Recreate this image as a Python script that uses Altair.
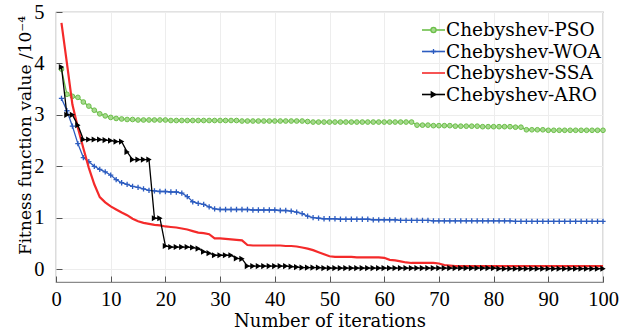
import altair as alt
import pandas as pd

iterations = list(range(1, 101))

pso = [
    3.89, 3.40, 3.36, 3.34, 3.25, 3.17, 3.09, 3.02, 2.98, 2.95,
    2.93, 2.92, 2.91, 2.91, 2.90, 2.90, 2.90, 2.90, 2.90, 2.90,
    2.89, 2.89, 2.89, 2.89, 2.89, 2.89, 2.89, 2.89, 2.89, 2.89,
    2.89, 2.89, 2.89, 2.88, 2.88, 2.88, 2.88, 2.88, 2.88, 2.88,
    2.88, 2.88, 2.88, 2.88, 2.88, 2.87, 2.86, 2.86, 2.86, 2.86,
    2.86, 2.86, 2.86, 2.86, 2.86, 2.86, 2.86, 2.86, 2.86, 2.86,
    2.86, 2.86, 2.86, 2.86, 2.86, 2.80, 2.80, 2.80, 2.79, 2.79,
    2.79, 2.79, 2.78, 2.78, 2.78, 2.78, 2.78, 2.77, 2.77, 2.77,
    2.77, 2.77, 2.77, 2.76, 2.76, 2.71, 2.71, 2.71, 2.71, 2.70,
    2.70, 2.70, 2.70, 2.70, 2.70, 2.70, 2.70, 2.70, 2.70, 2.70,
]

woa = [
    3.32, 3.08, 2.78, 2.44, 2.17, 2.09, 2.00, 1.94, 1.89, 1.83,
    1.74, 1.68, 1.65, 1.61, 1.59, 1.56, 1.53, 1.52, 1.51, 1.51,
    1.50, 1.50, 1.48, 1.41, 1.31, 1.28, 1.26, 1.21, 1.17, 1.16,
    1.16, 1.16, 1.16, 1.16, 1.16, 1.15, 1.15, 1.15, 1.15, 1.15,
    1.14, 1.14, 1.13, 1.11, 1.08, 1.03, 1.00, 0.99, 0.98, 0.98,
    0.98, 0.97, 0.97, 0.97, 0.97, 0.97, 0.97, 0.96, 0.96, 0.96,
    0.96, 0.96, 0.95, 0.95, 0.95, 0.95, 0.95, 0.95, 0.94, 0.94,
    0.94, 0.94, 0.94, 0.94, 0.94, 0.94, 0.94, 0.94, 0.94, 0.94,
    0.94, 0.94, 0.94, 0.93, 0.93, 0.93, 0.93, 0.93, 0.93, 0.93,
    0.93, 0.93, 0.93, 0.93, 0.93, 0.93, 0.93, 0.93, 0.93, 0.93,
]

ssa = [
    4.79, 4.00, 3.20, 2.75, 2.35, 1.97, 1.65, 1.40, 1.30, 1.22,
    1.16, 1.10, 1.05, 0.98, 0.93, 0.90, 0.88, 0.86, 0.85, 0.83,
    0.82, 0.81, 0.79, 0.77, 0.74, 0.71, 0.70, 0.68, 0.60, 0.60,
    0.59, 0.58, 0.57, 0.56, 0.47, 0.46, 0.46, 0.46, 0.46, 0.46,
    0.46, 0.45, 0.45, 0.44, 0.42, 0.40, 0.37, 0.33, 0.29, 0.25,
    0.24, 0.24, 0.24, 0.24, 0.23, 0.23, 0.23, 0.23, 0.23, 0.22,
    0.18, 0.17, 0.15, 0.13, 0.12, 0.12, 0.12, 0.12, 0.12, 0.11,
    0.08, 0.07, 0.06, 0.06, 0.06, 0.06, 0.06, 0.06, 0.06, 0.06,
    0.06, 0.06, 0.06, 0.06, 0.06, 0.06, 0.06, 0.06, 0.06, 0.06,
    0.06, 0.06, 0.06, 0.06, 0.06, 0.06, 0.06, 0.06, 0.06, 0.06,
]

aro = [
    3.93, 3.00, 3.00, 2.80, 2.52, 2.52, 2.52, 2.52, 2.51, 2.50,
    2.48, 2.48, 2.28, 2.13, 2.13, 2.13, 2.13, 0.99, 0.99, 0.45,
    0.43, 0.43, 0.43, 0.43, 0.42, 0.40, 0.34, 0.31, 0.27, 0.27,
    0.27, 0.27, 0.21, 0.20, 0.06, 0.06, 0.06, 0.06, 0.06, 0.06,
    0.06, 0.06, 0.05, 0.04, 0.03, 0.03, 0.03, 0.03, 0.02, 0.02,
    0.02, 0.02, 0.02, 0.02, 0.02, 0.02, 0.02, 0.02, 0.02, 0.02,
    0.02, 0.02, 0.02, 0.02, 0.02, 0.02, 0.02, 0.02, 0.02, 0.02,
    0.02, 0.02, 0.02, 0.02, 0.02, 0.02, 0.02, 0.02, 0.02, 0.02,
    0.01, 0.01, 0.01, 0.01, 0.01, 0.01, 0.01, 0.01, 0.01, 0.01,
    0.01, 0.01, 0.01, 0.01, 0.01, 0.01, 0.01, 0.01, 0.01, 0.01,
]

names = ["Chebyshev-PSO", "Chebyshev-WOA", "Chebyshev-SSA", "Chebyshev-ARO"]
colors = ["#6cbf4a", "#2c5cc0", "#f42a2a", "#000000"]
fills = ["#a6d98e", "#2c5cc0", "#f42a2a", "#000000"]
x_ticks = [0, 10, 20, 30, 40, 50, 60, 70, 80, 90, 100]
y_ticks = [0, 1, 2, 3, 4, 5]

PLUS = "M-1,0H1M0,-1V1"
FONT = "DejaVu Serif"
NUM_FONT = "Liberation Serif"

rows = []
for name, vals in zip(names, [pso, woa, ssa, aro]):
    for it, v in zip(iterations, vals):
        rows.append({"series": name, "iter": it, "value": v})
df = pd.DataFrame(rows)

xs = alt.Scale(domain=[0, 100], nice=False)
ys = alt.Scale(domain=[-0.25, 5], nice=False)

x_enc = alt.X(
    "iter:Q", scale=xs,
    axis=alt.Axis(
        values=x_ticks, title="Number of iterations", grid=True, gridColor="#ededed",
        domain=False, offset=-6, tickSize=6, tickColor="#555555",
        labelFont=NUM_FONT, labelFontSize=20.5, labelColor="black",
        labelBaseline="alphabetic", labelPadding=23, labelFlush=False,
        titleFont=FONT, titleFontSize=18, titleFontWeight="normal", titleColor="black",
        titleBaseline="alphabetic", titleY=50.5,
    ),
)
y_enc = alt.Y(
    "value:Q", scale=ys,
    axis=alt.Axis(
        values=y_ticks, title="Fitness function value /10⁻⁴", grid=True, gridColor="#ededed",
        domain=False, offset=-6, tickSize=6, tickColor="#555555",
        labelFont=NUM_FONT, labelFontSize=20.5, labelColor="black", labelPadding=12,
        labelFlush=False,
        titleFont=FONT, titleFontSize=17, titleFontWeight="normal", titleColor="black",
        titleBaseline="alphabetic", titleX=-32, titleY=123, titleAngle=-90,
    ),
)

base = alt.Chart(df)

def series_filter(name):
    return alt.datum.series == name

pso_line = base.transform_filter(series_filter(names[0])).mark_line(
    color=colors[0], strokeWidth=1.3).encode(x=x_enc, y=y_enc)
pso_pts = base.transform_filter(series_filter(names[0])).mark_point(
    shape="circle", filled=True, fill=fills[0], stroke=colors[0], strokeWidth=1,
    size=22, opacity=1).encode(x=x_enc, y=y_enc)
woa_line = base.transform_filter(series_filter(names[1])).mark_line(
    color=colors[1], strokeWidth=1.3).encode(x=x_enc, y=y_enc)
woa_pts = base.transform_filter(series_filter(names[1])).mark_point(
    shape=PLUS, filled=False, stroke=colors[1], strokeWidth=1.3,
    size=28, opacity=1).encode(x=x_enc, y=y_enc)
ssa_line = base.transform_filter(series_filter(names[2])).mark_line(
    color=colors[2], strokeWidth=2.2).encode(x=x_enc, y=y_enc)
aro_line = base.transform_filter(series_filter(names[3])).mark_line(
    color=colors[3], strokeWidth=1.3).encode(x=x_enc, y=y_enc)
aro_pts = base.transform_filter(series_filter(names[3])).mark_point(
    shape="triangle-right", filled=True, fill=colors[3], size=38,
    opacity=1).encode(x=x_enc, y=y_enc)

main = alt.layer(pso_line, pso_pts, woa_line, woa_pts, ssa_line, aro_line, aro_pts)

# legend (drawn as its own small table)
leg_df = pd.DataFrame({"series": names, "row": [0, 1, 2, 3]})
leg_y = alt.Y("row:Q", scale=alt.Scale(domain=[0, 3], range=[18, 82.5]), axis=None)
cscale = alt.Scale(domain=names, range=colors)
fscale = alt.Scale(domain=names, range=fills)
shscale = alt.Scale(domain=names, range=["circle", PLUS, "circle", "triangle-right"])

leg_base = alt.Chart(leg_df)
leg_rule = leg_base.mark_rule(strokeWidth=1.6).encode(
    x=alt.value(366), x2=alt.value(389), y=leg_y,
    color=alt.Color("series:N", scale=cscale, legend=None),
)
leg_pts = leg_base.transform_filter(alt.datum.series != names[2]).mark_point(
    filled=True, strokeWidth=1.3, size=26, opacity=1).encode(
    x=alt.value(377.5), y=leg_y,
    fill=alt.Fill("series:N", scale=fscale, legend=None),
    stroke=alt.Stroke("series:N", scale=cscale, legend=None),
    shape=alt.Shape("series:N", scale=shscale, legend=None),
)
leg_txt = leg_base.mark_text(
    align="left", baseline="middle", font=FONT, fontSize=18.5, color="black").encode(
    x=alt.value(390), y=leg_y, text="series:N")

legend = alt.layer(leg_rule, leg_pts, leg_txt)

chart = alt.layer(main, legend).resolve_scale(
    y="independent", color="independent", fill="independent", stroke="independent",
    shape="independent"
).properties(
    width=547, height=270,
    autosize=alt.AutoSizeParams(type="none"),
    padding={"left": 56, "top": 12, "right": 27, "bottom": 54},
    background="white",
).configure_view(stroke="#8a8a8a", strokeWidth=1.2)

chart.save("out.html", embed_options={"renderer": "svg", "actions": False})
